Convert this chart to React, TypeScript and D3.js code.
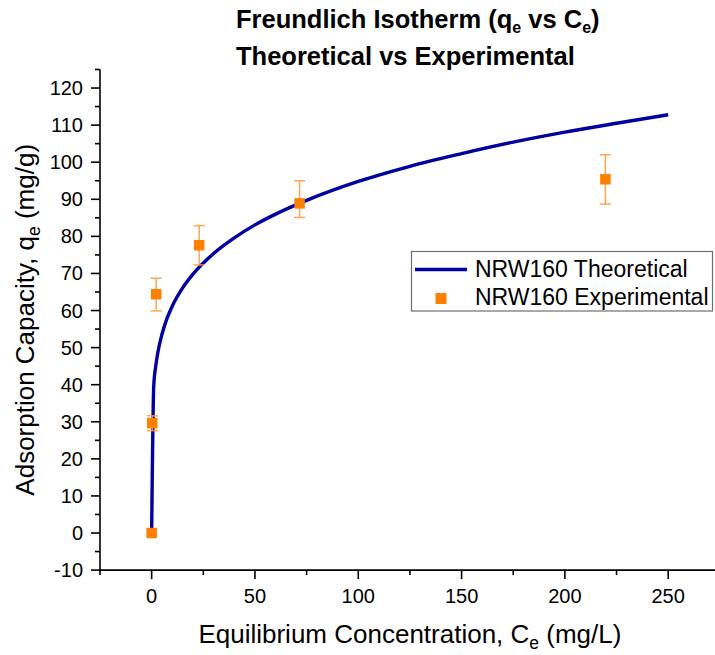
import React from "react";
import * as d3 from "d3";

// Freundlich model curve (qe vs Ce), sampled along the plotted line
const CONC_THEORY = [0, 1, 2, 3, 5, 7, 10, 15, 20, 30, 40, 50, 60, 75, 100, 125, 150, 175, 200, 225, 250];
const QE_THEORY = [0, 39.5, 45.1, 48.7, 53.6, 57.2, 61.2, 66.1, 69.8, 75.4, 79.6, 83.1, 86.0, 89.7, 94.8, 98.9, 102.3, 105.4, 108.1, 110.5, 112.8];

// Experimental measurements with error bars
const CONC_EXP = [0, 0.3, 2.2, 23.0, 71.6, 219.6];
const QE_EXP = [0, 29.6, 64.4, 77.6, 88.9, 95.4];
const ERR_UP = [0, 2.0, 4.3, 5.3, 6.1, 6.6];
const ERR_DOWN = [0, 2.0, 4.5, 5.3, 3.8, 6.7];

const X_MAJOR = [0, 50, 100, 150, 200, 250];
const X_MINOR = [-25, 25, 75, 125, 175, 225, 275];
const Y_MAJOR = [-10, 0, 10, 20, 30, 40, 50, 60, 70, 80, 90, 100, 110, 120];
const Y_MINOR = [-5, 5, 15, 25, 35, 45, 55, 65, 75, 85, 95, 105, 115, 125];

const SERIES_THEORY = "NRW160 Theoretical";
const SERIES_EXP = "NRW160 Experimental";

const FONT = "'Liberation Sans', Arial, Helvetica, sans-serif";
const BLUE = "#0000a0";
const ORANGE = "#ff8000";
const ORANGE_BAR = "#ff9d3c";

export default function App() {
  const width = 715;
  const height = 655;

  const x = d3.scaleLinear().domain([-25, 275]).range([100, 719.85]);
  const y = d3.scaleLinear().domain([-10, 125]).range([570.1, 69.5]);

  const theory = CONC_THEORY.map((c, i) => [c, QE_THEORY[i]] as [number, number]);
  const line = d3
    .line<[number, number]>()
    .x((d) => x(d[0]))
    .y((d) => y(d[1]))
    .curve(d3.curveMonotoneX);

  const x0 = x(-25);
  const yBottom = y(-10);
  const yTop = y(125);
  const xCenter = (x(-25) + x(275)) / 2;
  const yCenter = (yTop + yBottom) / 2;

  const marker = 10.5;
  const capHalf = 5.5;

  return (
    <svg
      width={width}
      height={height}
      style={{ position: "absolute", left: 0, top: 0, background: "#fff" }}
      fontFamily={FONT}
    >
      <rect x={0} y={0} width={width} height={height} fill="#fff" />

      {/* Title */}
      <text x={236} y={28} fontSize={25.5} fontWeight="bold" fill="#000">
        Freundlich Isotherm (q
        <tspan fontSize={16} dy={5}>e</tspan>
        <tspan dy={-5}> vs C</tspan>
        <tspan fontSize={16} dy={5}>e</tspan>
        <tspan dy={-5}>)</tspan>
      </text>
      <text x={236} y={65} fontSize={25.5} fontWeight="bold" fill="#000">
        Theoretical vs Experimental
      </text>

      {/* Theoretical curve */}
      <path d={line(theory) || ""} fill="none" stroke={BLUE} strokeWidth={3.4} strokeLinejoin="round" />

      {/* Error bars */}
      {CONC_EXP.map((c, i) => {
        if (ERR_UP[i] === 0 && ERR_DOWN[i] === 0) return null;
        const cx = x(c);
        const yu = y(QE_EXP[i] + ERR_UP[i]);
        const yd = y(QE_EXP[i] - ERR_DOWN[i]);
        return (
          <g key={"eb" + i} stroke={ORANGE_BAR} strokeWidth={1.5} opacity={0.9}>
            <line x1={cx} x2={cx} y1={yu} y2={yd} />
            <line x1={cx - capHalf} x2={cx + capHalf} y1={yu} y2={yu} />
            <line x1={cx - capHalf} x2={cx + capHalf} y1={yd} y2={yd} />
          </g>
        );
      })}

      {/* Experimental markers */}
      {CONC_EXP.map((c, i) => (
        <rect
          key={"m" + i}
          x={x(c) - marker / 2}
          y={y(QE_EXP[i]) - marker / 2}
          width={marker}
          height={marker}
          fill={ORANGE}
        />
      ))}

      {/* Axes */}
      <g stroke="#000" strokeWidth={1.6}>
        <line x1={x0} x2={x0} y1={yTop} y2={yBottom + 0.8} />
        <line x1={x0 - 0.8} x2={width + 10} y1={yBottom} y2={yBottom} />
        {X_MAJOR.map((v) => (
          <line key={"xM" + v} x1={x(v)} x2={x(v)} y1={yBottom} y2={yBottom + 9} />
        ))}
        {X_MINOR.map((v) => (
          <line key={"xm" + v} x1={x(v)} x2={x(v)} y1={yBottom} y2={yBottom + 5} />
        ))}
        {Y_MAJOR.map((v) => (
          <line key={"yM" + v} x1={x0 - 9} x2={x0} y1={y(v)} y2={y(v)} />
        ))}
        {Y_MINOR.map((v) => (
          <line key={"ym" + v} x1={x0 - 5} x2={x0} y1={y(v)} y2={y(v)} />
        ))}
      </g>

      {/* Tick labels */}
      {X_MAJOR.map((v) => (
        <text key={"xl" + v} x={x(v)} y={603} fontSize={20} textAnchor="middle" fill="#000">
          {v}
        </text>
      ))}
      {Y_MAJOR.map((v) => (
        <text key={"yl" + v} x={83} y={y(v) + 7} fontSize={20} textAnchor="end" fill="#000">
          {v}
        </text>
      ))}

      {/* Axis titles */}
      <text x={xCenter} y={643} fontSize={26} textAnchor="middle" fill="#000">
        Equilibrium Concentration, C
        <tspan fontSize={17.5} dy={6}>e</tspan>
        <tspan dy={-6}> (mg/L)</tspan>
      </text>
      <text
        transform={`translate(34,${yCenter}) rotate(-90)`}
        fontSize={26}
        textAnchor="middle"
        fill="#000"
      >
        Adsorption Capacity, q
        <tspan fontSize={17.5} dy={6}>e</tspan>
        <tspan dy={-6}> (mg/g)</tspan>
      </text>

      {/* Legend */}
      <rect x={411.5} y={251.5} width={301} height={59.5} fill="#fff" stroke="#6e6e6e" strokeWidth={1.2} />
      <line x1={415} x2={467} y1={269.5} y2={269.5} stroke={BLUE} strokeWidth={3.4} />
      <text x={475} y={277} fontSize={23} fill="#000">
        {SERIES_THEORY}
      </text>
      <rect x={441 - 5.5} y={298.5 - 5.5} width={11} height={11} fill={ORANGE} />
      <text x={475} y={305} fontSize={23} fill="#000">
        {SERIES_EXP}
      </text>
    </svg>
  );
}
